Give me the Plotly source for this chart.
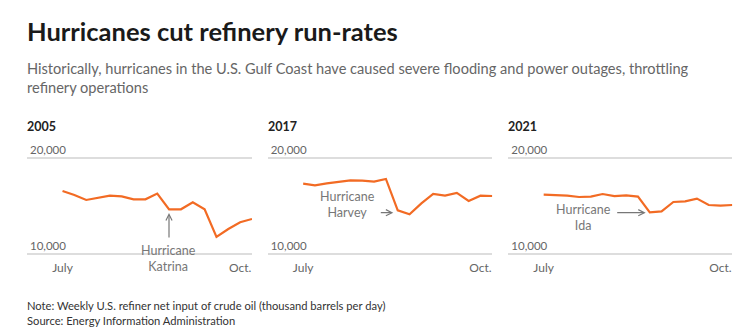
import pandas as pd
import plotly.graph_objects as go

# ---- data (weekly U.S. refiner net input of crude oil, thousand b/d) ----
years = ["2005", "2017", "2021"]
week_start = {"2005": "2005-07-01", "2017": "2017-07-07", "2021": "2021-07-02"}
values_2005 = [16540, 16130, 15610, 15820, 16060, 15990, 15680, 15680, 16270,
               14640, 14640, 15370, 14640, 11770, 12600, 13290, 13640]
values_2017 = [17300, 17130, 17340, 17480, 17650, 17620, 17510, 17790, 14540,
               14120, 15260, 16230, 16060, 16340, 15510, 16060, 16020]
values_2021 = [16160, 16130, 16060, 15920, 15960, 16230, 16020, 16090, 15960,
               14330, 14430, 15400, 15470, 15750, 15090, 15020, 15090]
series = {"2005": values_2005, "2017": values_2017, "2021": values_2021}
x_tick_text = ["July", "Oct."]
y_tick_vals = [10000, 20000]
y_tick_text = ["10,000", "20,000"]
hurricanes = {"2005": "Hurricane<br>Katrina", "2017": "Hurricane<br>Harvey", "2021": "Hurricane<br>Ida"}

# ---- layout constants ----
W, H = 751, 329
FONT = "Lato"
ORANGE = "#f26b24"
x_domains = [(27, 252), (267.7, 492.3), (508.3, 732.3)]
y_top_px, y_bot_px = 157.7, 254
Y_LO, Y_HI, Y_PAD = 10000, 20000, 150
px_per_unit = (y_bot_px - y_top_px) / (Y_HI - Y_LO)

def px_x(p):
    return p / W

def px_y(p):
    return 1 - p / H

fig = go.Figure()
layout_axes = {}
for i, yr in enumerate(years):
    n = len(series[yr])
    dates = pd.date_range(week_start[yr], periods=n, freq="7D")
    suffix = "" if i == 0 else str(i + 1)
    fig.add_trace(go.Scatter(
        x=dates, y=series[yr], mode="lines",
        line=dict(color=ORANGE, width=2.2),
        xaxis="x" + suffix, yaxis="y" + suffix,
        showlegend=False, hoverinfo="skip"))
    x0 = dates[0] - pd.Timedelta(days=21)
    layout_axes["xaxis" + suffix] = dict(
        domain=[px_x(x_domains[i][0]), px_x(x_domains[i][1])],
        range=[x0, dates[-1]], anchor="y" + suffix,
        showgrid=False, zeroline=False, showline=False, ticks="",
        tickvals=[dates[0], dates[15]], ticktext=x_tick_text,
        tickfont=dict(family=FONT, size=12, color="#666"),
        ticklabelstandoff=4, automargin=False, fixedrange=True)
    layout_axes["yaxis" + suffix] = dict(
        domain=[px_y(y_bot_px + Y_PAD * px_per_unit), px_y(y_top_px - Y_PAD * px_per_unit)],
        range=[Y_LO - Y_PAD, Y_HI + Y_PAD], anchor="x" + suffix,
        tickvals=y_tick_vals, ticktext=y_tick_text,
        ticklabelposition="inside top", ticklabeloverflow="allow",
        tickfont=dict(family=FONT, size=11.5, color="#666"),
        showgrid=True, gridcolor="#dddddd", gridwidth=1.5,
        zeroline=False, showline=False, ticks="", automargin=False, fixedrange=True)

annotations = [
    dict(text="<b>Hurricanes cut refinery run-rates</b>", x=px_x(25), y=px_y(31),
         xanchor="left", yanchor="middle", font=dict(family=FONT, size=25.5, color="#1a1a1a")),
    dict(text="Historically, hurricanes in the U.S. Gulf Coast have caused severe flooding and power outages, throttling<br>refinery operations",
         x=px_x(25), y=px_y(77.5), xanchor="left", yanchor="middle", align="left",
         font=dict(family=FONT, size=14.6, color="#666")),
    dict(text="Note: Weekly U.S. refiner net input of crude oil (thousand barrels per day)<br>Source: Energy Information Administration",
         x=px_x(25), y=px_y(312.5), xanchor="left", yanchor="middle", align="left",
         font=dict(family=FONT, size=11.2, color="#333")),
]
for i, yr in enumerate(years):
    annotations.append(dict(text="<b>" + yr + "</b>", x=px_x(x_domains[i][0] - 2), y=px_y(126.7),
                            xanchor="left", yanchor="middle",
                            font=dict(family=FONT, size=12.5, color="#222")))

# hurricane labels
label_pos = [(168.5, 258.7), (347.3, 205), (583.3, 217.2)]
for i, yr in enumerate(years):
    annotations.append(dict(text=hurricanes[yr], x=px_x(label_pos[i][0]), y=px_y(label_pos[i][1]),
                            xanchor="center", yanchor="middle", align="center",
                            font=dict(family=FONT, size=12.5, color="#777")))

# arrows (tip position, tail offset in px)
arrows = [((169, 213), (0, 26)), ((393.3, 212.7), (-14, 0)), ((645.7, 212.7), (-30, 0))]
for (tx, ty), (ax, ay) in arrows:
    annotations.append(dict(text="", x=px_x(tx), y=px_y(ty), ax=ax, ay=ay,
                            showarrow=True, arrowhead=5, arrowsize=1, arrowwidth=1.2,
                            arrowcolor="#777", standoff=0))

for a in annotations:
    a.setdefault("xref", "paper")
    a.setdefault("yref", "paper")
    a.setdefault("showarrow", False)

fig.update_layout(
    width=W, height=H, margin=dict(l=0, r=0, t=0, b=0, autoexpand=False),
    paper_bgcolor="white", plot_bgcolor="white",
    annotations=annotations, **layout_axes)

fig.write_html("out.html", config={"displayModeBar": False})
